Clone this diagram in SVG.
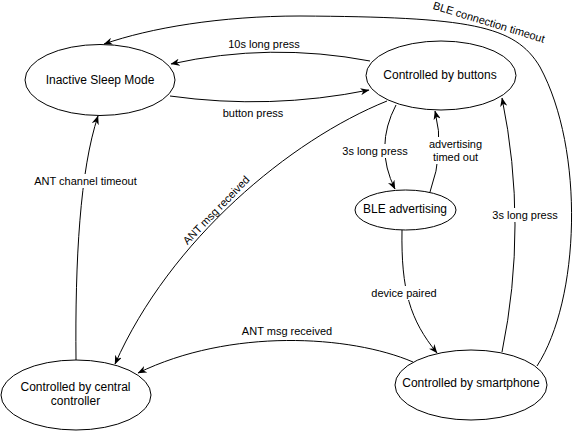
<svg xmlns="http://www.w3.org/2000/svg" width="575" height="432" viewBox="0 0 575 432">
<defs>
<marker id="arr" viewBox="0 0 10 8" refX="9.5" refY="4" markerWidth="9" markerHeight="7.2" markerUnits="userSpaceOnUse" orient="auto">
<path d="M0,0 L10,4 L0,8 L3,4 Z" fill="#000"/>
</marker>
</defs>
<style>
.node ellipse{fill:#fff;stroke:#000;stroke-width:1}
.node text{font-family:"Liberation Sans",Arial,Helvetica,sans-serif;font-size:12px;fill:#000;text-anchor:middle}
.edge{fill:none;stroke:#000;stroke-width:1;marker-end:url(#arr)}
.lbl{font-family:"Liberation Sans",Arial,Helvetica,sans-serif;font-size:11px;fill:#000;text-anchor:middle}
.bg{fill:#fff}
</style>
<rect width="575" height="432" fill="#fff"/>
<g id="connectors">
<path class="edge" d="M537 366 C580 300 585 150 540 67 C515 25 470 17 300 16 C220 16 150 28 104 44"/>
<path class="edge" d="M370 61 Q270 42 171 64"/>
<path class="edge" d="M170 96 Q270 110 369 90"/>
<path class="edge" d="M396 105 Q374 147 395 189"/>
<path class="edge" d="M430 192 Q445 150 435 111"/>
<path class="edge" d="M402 230 C401 290 410 320 437 353"/>
<path class="edge" d="M502 352 Q528 225 502 98"/>
<path class="edge" d="M413 362 C350 335 230 328 138 373"/>
<path class="edge" d="M387 101 C290 140 170 240 115 364"/>
<path class="edge" d="M76 360 C75 260 80 170 98 116"/>
<g id="edge-labels">
<text class="lbl" transform="rotate(17 489 22)" x="489" y="26">BLE connection timeout</text>
<text class="lbl" x="264" y="48">10s long press</text>
<text class="lbl" x="253" y="117">button press</text>
<rect class="bg" x="342" y="144" width="67" height="14"/>
<text class="lbl" x="375" y="155">3s long press</text>
<rect class="bg" x="428" y="137" width="55" height="27"/>
<text class="lbl" x="455.5" y="148">advertising</text>
<text class="lbl" x="455.5" y="161">timed out</text>
<rect class="bg" x="368" y="286" width="72" height="14"/>
<text class="lbl" x="404" y="297">device paired</text>
<rect class="bg" x="492" y="208" width="67" height="14"/>
<text class="lbl" x="525" y="219">3s long press</text>
<text class="lbl" x="287" y="335">ANT msg received</text>
<text class="lbl" transform="rotate(-46 216 210)" x="216" y="214">ANT msg received</text>
<rect class="bg" x="34" y="174" width="103" height="14"/>
<text class="lbl" x="85.5" y="185">ANT channel timeout</text>
</g>
</g>
<g id="node-inactive" class="node">
<ellipse cx="100" cy="80" rx="75" ry="35.5"/>
<text x="100" y="84">Inactive Sleep Mode</text>
</g>
<g id="node-buttons" class="node">
<ellipse cx="441" cy="75.5" rx="75" ry="34.5"/>
<text x="440" y="78.5">Controlled by buttons</text>
</g>
<g id="node-ble" class="node">
<ellipse cx="405.5" cy="210" rx="50.5" ry="20"/>
<text x="405" y="212.5">BLE advertising</text>
</g>
<g id="node-central" class="node">
<ellipse cx="76" cy="395" rx="75" ry="35"/>
<text x="75.5" y="391">Controlled by central</text>
<text x="75.5" y="405">controller</text>
</g>
<g id="node-smartphone" class="node">
<ellipse cx="471" cy="385" rx="76" ry="35"/>
<text x="471" y="387">Controlled by smartphone</text>
</g>
</svg>
